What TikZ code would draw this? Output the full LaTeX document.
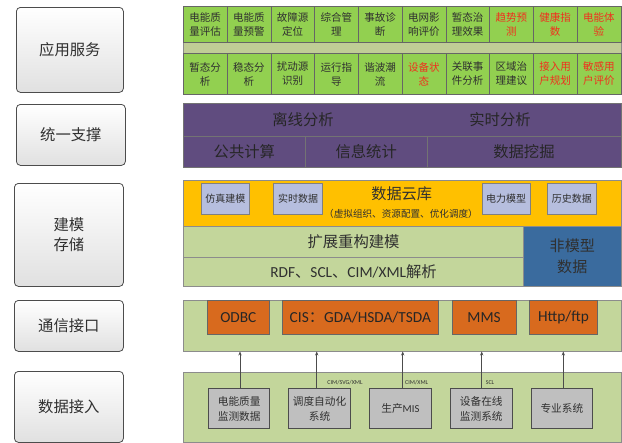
\documentclass[tikz,border=0pt]{standalone}
\usepackage{fontspec}
\setmainfont{Carlito}
\newfontfamily\cjk{Noto Sans CJK SC}
\usetikzlibrary{arrows.meta}
\definecolor{appgreen}{HTML}{92D050}
\definecolor{bandc}{HTML}{C0CD96}
\definecolor{purp}{HTML}{604C7F}
\definecolor{yel}{HTML}{FFC000}
\definecolor{lav}{HTML}{B6BEDE}
\definecolor{oliv}{HTML}{C3D69B}
\definecolor{blu}{HTML}{3A6B9E}
\definecolor{oran}{HTML}{D86A1E}
\definecolor{gbox}{HTML}{BFBFBF}
\definecolor{redt}{HTML}{F0301E}
\definecolor{txt}{HTML}{303030}
\newcommand\mybox[6]{\node[#1,anchor=north west,minimum width=#4*0.75pt,minimum height=#5*0.75pt,inner sep=0pt] (#2) at #3 {#6};}
\tikzset{
 x=0.75pt,y=-0.75pt,
 lbl/.style={draw=black!70,rounded corners=3pt,top color=white,bottom color=black!12,line width=0.6pt,font=\cjk\fontsize{11.5}{15}\selectfont,text=txt,align=center},
 panel/.style={draw=black!45,line width=0.6pt},
 cell/.style={draw=black!60,fill=appgreen,line width=0.5pt,font=\cjk\fontsize{7.9}{10.5}\selectfont,text=txt,align=center},
 rcell/.style={cell,text=redt},
 ptext/.style={font=\cjk\fontsize{11.5}{14}\selectfont,text=black!85},
 pcell/.style={draw=black!55,fill=purp,line width=0.5pt,ptext},
 sbox/.style={draw=black!50,fill=lav,line width=0.5pt,font=\cjk\fontsize{7.5}{9}\selectfont,text=txt},
 obox/.style={draw=black!60,fill=oran,line width=0.5pt,font=\fontsize{11.5}{14}\selectfont,text=black!85},
 dbox/.style={draw=black!70,fill=gbox,line width=0.6pt,font=\cjk\fontsize{8}{11}\selectfont,text=txt,align=center},
 arr/.style={-{Stealth[length=3pt,width=2.5pt]},draw=black!70,line width=0.5pt},
 tiny/.style={font=\fontsize{4.5}{5}\selectfont,text=txt,inner sep=0pt}
}
\begin{document}
\begin{tikzpicture}
\useasboundingbox (0,0) rectangle (622,443);
% left labels
\mybox{lbl}{L1}{(16,7)}{107}{85}{应用服务}
\mybox{lbl}{L2}{(16,104)}{109}{61}{统一支撑}
\mybox{lbl}{L3}{(14,183)}{109}{103}{建模\\存储}
\mybox{lbl}{L4}{(14,300)}{109}{51}{通信接口}
\mybox{lbl}{L5}{(14,371)}{109}{71}{数据接入}
% application panel
\mybox{panel,fill=bandc}{AP}{(183,6)}{437.5}{88}{}
\foreach \i/\t/\s in {0/电能质\\量评估/cell,1/电能质\\量预警/cell,2/故障源\\定位/cell,3/综合管\\理/cell,4/事故诊\\断/cell,5/电网影\\响评价/cell,6/暂态治\\理效果/cell,7/趋势预\\测/rcell,8/健康指\\数/rcell,9/电能体\\验/rcell}{
 \mybox{\s}{A\i}{(183+\i*43.75,6)}{43.75}{36.3}{\t}
}
\foreach \i/\t/\s in {0/暂态分\\析/cell,1/稳态分\\析/cell,2/扰动源\\识别/cell,3/运行指\\导/cell,4/谐波潮\\流/cell,5/设备状\\态/rcell,6/关联事\\件分析/cell,7/区域治\\理建议/cell,8/接入用\\户规划/rcell,9/敏感用\\户评价/rcell}{
 \mybox{\s}{B\i}{(183+\i*43.75,53.3)}{43.75}{40.7}{\t}
}
% support panel
\mybox{pcell}{P0}{(183,103)}{437.5}{32.7}{}
\node[ptext] (P0a) at (303,119.5) {离线分析};
\node[ptext] (P0b) at (500,119.5) {实时分析};
\mybox{pcell}{P1}{(183,135.7)}{122}{31}{公共计算}
\mybox{pcell}{P2}{(305,135.7)}{121.7}{31}{信息统计}
\mybox{pcell}{P3}{(426.7,135.7)}{193.8}{31}{数据挖掘}
% modelling panel
\mybox{panel,fill=yel}{Y}{(183,180)}{437.5}{45.7}{}
\node[font=\cjk\fontsize{11.4}{14}\selectfont,text=txt] (Yt) at (401.7,193.3) {数据云库};
\node[font=\cjk\fontsize{7.2}{9}\selectfont,text=txt] (Ys) at (401,214.3) {（虚拟组织、资源配置、优化调度）};
\mybox{sbox}{S1}{(200.7,183.3)}{48.6}{30.7}{仿真建模}
\mybox{sbox}{S2}{(273.3,183.3)}{49}{30.7}{实时数据}
\mybox{sbox}{S3}{(481.7,183.3)}{48.3}{30.7}{电力模型}
\mybox{sbox}{S4}{(547.3,183.3)}{48.7}{30.7}{历史数据}
\mybox{panel,fill=oliv}{G1}{(183,225.7)}{340.3}{31}{\cjk\fontsize{11.5}{14}\selectfont\color{txt}扩展重构建模}
\mybox{panel,fill=oliv}{G2}{(183,256.7)}{340.3}{29.3}{\fontsize{11.5}{14}\selectfont\color{txt}RDF{\cjk 、}SCL{\cjk 、}CIM/XML{\cjk 解析}}
\mybox{panel,fill=blu}{NB}{(523.3,225.7)}{97.2}{60.3}{\cjk\fontsize{11.3}{21}\selectfont\color{txt}\shortstack{非模型\\[2pt]数据}}
% communication panel
\mybox{panel,fill=oliv}{CP}{(183,300)}{437.5}{50.7}{}
\mybox{obox}{O1}{(207.3,300)}{61.4}{34}{ODBC}
\mybox{obox}{O2}{(281.7,300)}{156.6}{34}{CIS{\cjk ：}GDA/HSDA/TSDA}
\mybox{obox}{O3}{(451.7,300)}{64}{34}{MMS}
\mybox{obox}{O4}{(529,300)}{68.3}{34}{Http/ftp}
% data access panel
\mybox{panel,fill=oliv}{DP}{(183,371.7)}{437.5}{70}{}
\mybox{dbox}{D1}{(208.3,388.3)}{61}{40}{电能质量\\监测数据}
\mybox{dbox}{D2}{(288.3,388.3)}{61.7}{40}{调度自动化\\系统}
\mybox{dbox}{D3}{(369.3,388.3)}{61.4}{40}{生产\fontspec{Carlito}MIS}
\mybox{dbox}{D4}{(450,388.3)}{61.7}{40}{设备在线\\监测系统}
\mybox{dbox}{D5}{(530.7,388.3)}{61.6}{40}{专业系统}
% arrows
\draw[arr] (D1.north -| 240,0) -- (CP.south -| 240,0);
\draw[arr] (D2.north -| 316.7,0) -- (CP.south -| 316.7,0);
\draw[arr] (D3.north -| 402.7,0) -- (CP.south -| 402.7,0);
\draw[arr] (D4.north -| 481.7,0) -- (CP.south -| 481.7,0);
\draw[arr] (D5.north -| 563.3,0) -- (CP.south -| 563.3,0);
\node[tiny] (T1) at (345,382.7) {CIM/SVG/XML};
\node[tiny] (T2) at (416.7,382.7) {CIM/XML};
\node[tiny] (T3) at (490,382.7) {SCL};
\end{tikzpicture}
\end{document}
